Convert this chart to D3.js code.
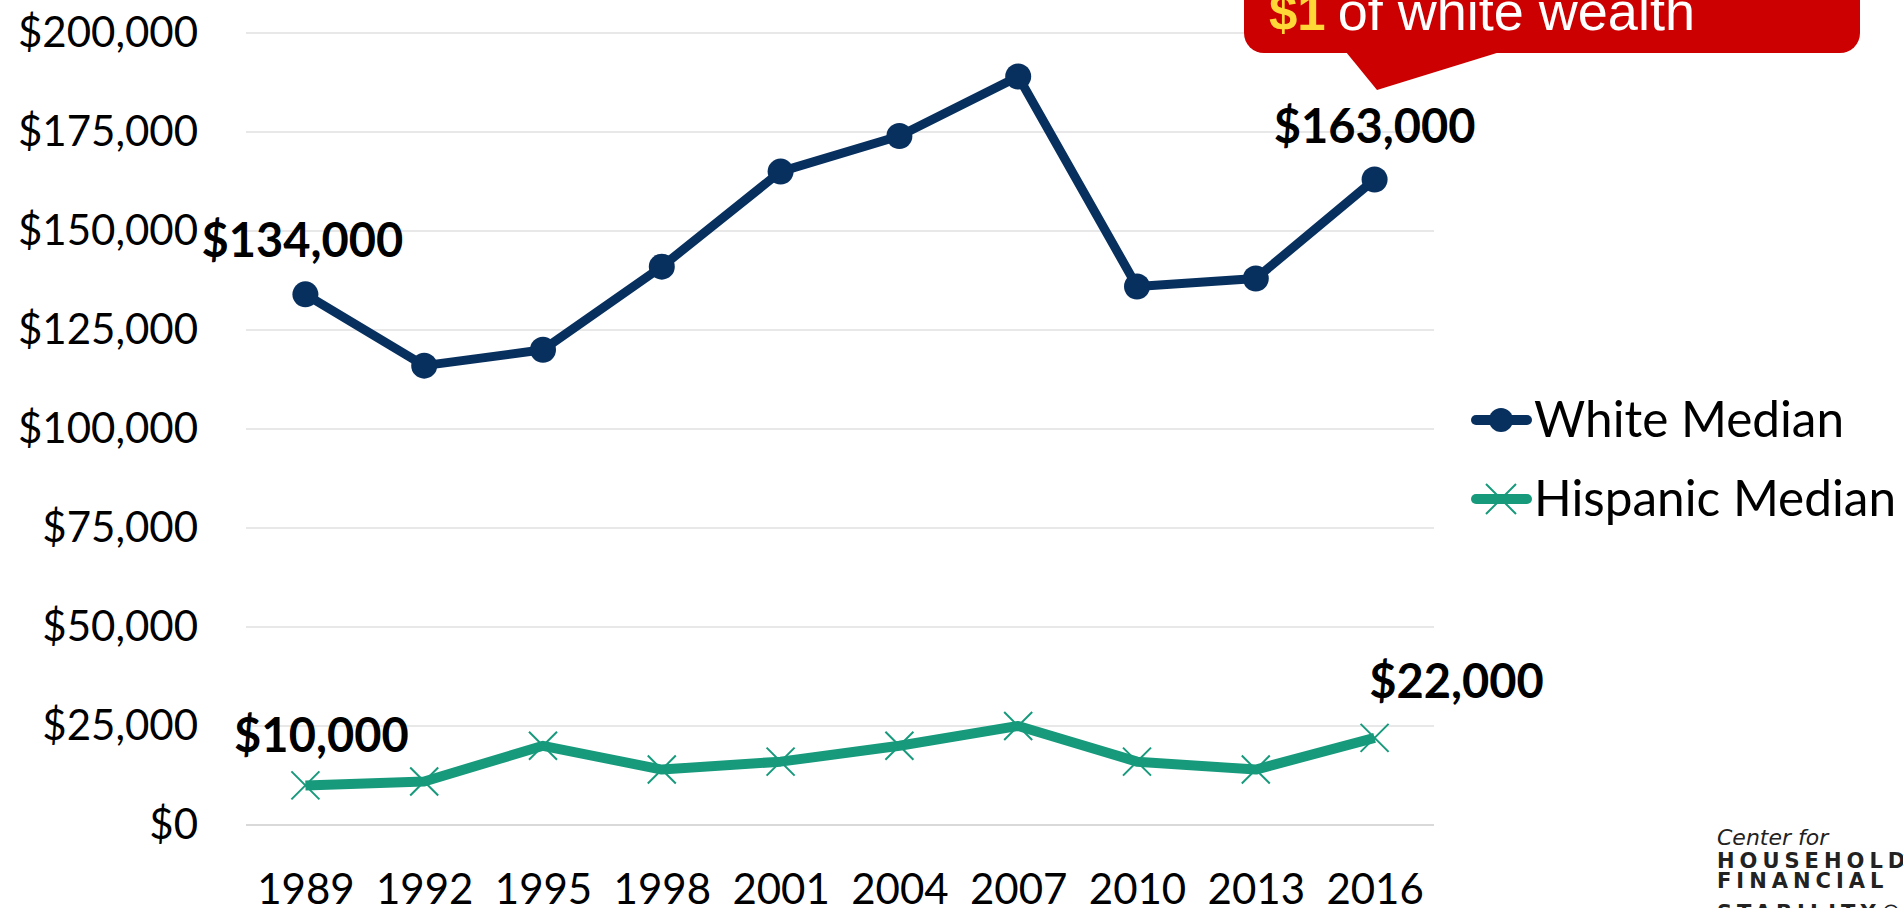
<!DOCTYPE html>
<html>
<head>
<meta charset="utf-8">
<script src="https://d3js.org/d3.v7.min.js"></script>
<style>
  body { margin: 0; background: #fff; }
  .tick text { font-family: Lato, sans-serif; font-size: 42px; fill: #000; }
  .grid line { stroke: #e8e8e8; stroke-width: 2; }
  .lbl { font-family: Lato, sans-serif; font-weight: bold; font-size: 47px; text-anchor: middle; }
  .legend text { font-family: Lato, sans-serif; font-size: 49.5px; }
</style>
</head>
<body>
<div id="chart"></div>
<script>
// data
const years = ["1989", "1992", "1995", "1998", "2001", "2004", "2007", "2010", "2013", "2016"];
const whiteMedian = [134000, 116000, 120000, 141000, 165000, 174000, 189000, 136000, 138000, 163000];
const hispanicMedian = [10000, 11000, 20000, 14000, 16000, 20000, 25000, 16000, 14000, 22000];
const yTicks = [0, 25000, 50000, 75000, 100000, 125000, 150000, 175000, 200000];
const seriesNames = ["White Median", "Hispanic Median"];

const W = 1903, H = 908;
const navy = "#08305f", teal = "#179a7c";

const svg = d3.select("#chart").append("svg")
  .attr("width", W).attr("height", H);

const x = d3.scalePoint().domain(years).range([246, 1434]).padding(0.5);
const y = d3.scaleLinear().domain([0, 200000]).range([825, 33]);

// gridlines
svg.append("g").attr("class", "grid")
  .selectAll("line").data(yTicks).join("line")
  .attr("x1", 246).attr("x2", 1434)
  .attr("y1", d => y(d)).attr("y2", d => y(d))
  .style("stroke", d => d === 0 ? "#d9d9d9" : null);

// y axis labels
const yAxis = svg.append("g").attr("transform", "translate(246,0)")
  .call(d3.axisLeft(y).tickValues(yTicks).tickSize(0).tickPadding(48).tickFormat(d3.format("$,")));
yAxis.select(".domain").remove();

// x axis labels
const xAxis = svg.append("g").attr("transform", "translate(0,825)")
  .call(d3.axisBottom(x).tickSize(0));
xAxis.select(".domain").remove();
xAxis.selectAll("text").attr("y", 79).attr("dy", 0);

const line = d3.line().x((d, i) => x(years[i])).y(d => y(d));

// white series
svg.append("path").datum(whiteMedian)
  .attr("fill", "none").attr("stroke", navy).attr("stroke-width", 9)
  .attr("stroke-linejoin", "round").attr("d", line);
svg.append("g").selectAll("circle").data(whiteMedian).join("circle")
  .attr("cx", (d, i) => x(years[i])).attr("cy", d => y(d)).attr("r", 13)
  .attr("fill", navy);

// hispanic series
svg.append("path").datum(hispanicMedian)
  .attr("fill", "none").attr("stroke", teal).attr("stroke-width", 10)
  .attr("stroke-linejoin", "round").attr("d", line);
const cross = s => `M${-s},${-s}L${s},${s}M${-s},${s}L${s},${-s}`;
svg.append("g").selectAll("path").data(hispanicMedian).join("path")
  .attr("transform", (d, i) => `translate(${x(years[i])},${y(d)})`)
  .attr("d", cross(14)).attr("stroke", teal).attr("stroke-width", 2).attr("fill", "none");

// value labels on first/last points
const fmt = d3.format("$,");
const labels = [
  { v: whiteMedian[0], yr: years[0], dx: -3, dy: -37 },
  { v: whiteMedian[9], yr: years[9], dx: 0, dy: -37 },
  { v: hispanicMedian[0], yr: years[0], dx: 16, dy: -33 },
  { v: hispanicMedian[9], yr: years[9], dx: 82, dy: -40 }
];
svg.append("g").selectAll("text").data(labels).join("text")
  .attr("class", "lbl")
  .attr("x", d => x(d.yr) + d.dx).attr("y", d => y(d.v) + d.dy)
  .text(d => fmt(d.v));

// legend
const lg = svg.append("g").attr("class", "legend");
[navy, teal].forEach((c, i) => {
  const ly = 420 + i * 79;
  lg.append("line").attr("x1", 1476).attr("x2", 1527).attr("y1", ly).attr("y2", ly)
    .attr("stroke", c).attr("stroke-width", 10).attr("stroke-linecap", "round");
  if (i === 0) {
    lg.append("circle").attr("cx", 1501).attr("cy", ly).attr("r", 12).attr("fill", c);
  } else {
    lg.append("path").attr("transform", `translate(1501,${ly})`).attr("d", cross(15))
      .attr("stroke", c).attr("stroke-width", 2);
  }
  lg.append("text").attr("x", 1534).attr("y", ly + 17).text(seriesNames[i]);
});

// callout
const co = svg.append("g");
co.append("rect").attr("x", 1244).attr("y", -40).attr("width", 616).attr("height", 93)
  .attr("rx", 20).attr("fill", "#cc0000");
co.append("path").attr("d", "M1346,52L1377,90L1500,52Z").attr("fill", "#cc0000");
const ct = co.append("text").attr("x", 1269).attr("y", 30)
  .style("font-family", "'Liberation Sans', Arial, sans-serif").style("font-size", "51px");
ct.append("tspan").attr("fill", "#ffd838").attr("font-weight", "bold").text("$1");
ct.append("tspan").attr("fill", "#fff").attr("dx", 12).style("font-size", "54px").text("of white wealth");

// logo
const logo = svg.append("g").style("font-family", "'DejaVu Sans', sans-serif").attr("fill", "#222");
logo.append("text").attr("x", 1717).attr("y", 845).style("font-size", "22px")
  .style("font-style", "italic").style("font-weight", "300").text("Center for");
["HOUSEHOLD", "FINANCIAL", "STABILITY®"].forEach((t, i) => {
  logo.append("text").attr("x", 1717).attr("y", 868 + i * 20 + (i === 2 ? 12 : 0))
    .style("font-size", "21px").style("font-weight", "bold").style("letter-spacing", "5px").text(t);
});
</script>
</body>
</html>
